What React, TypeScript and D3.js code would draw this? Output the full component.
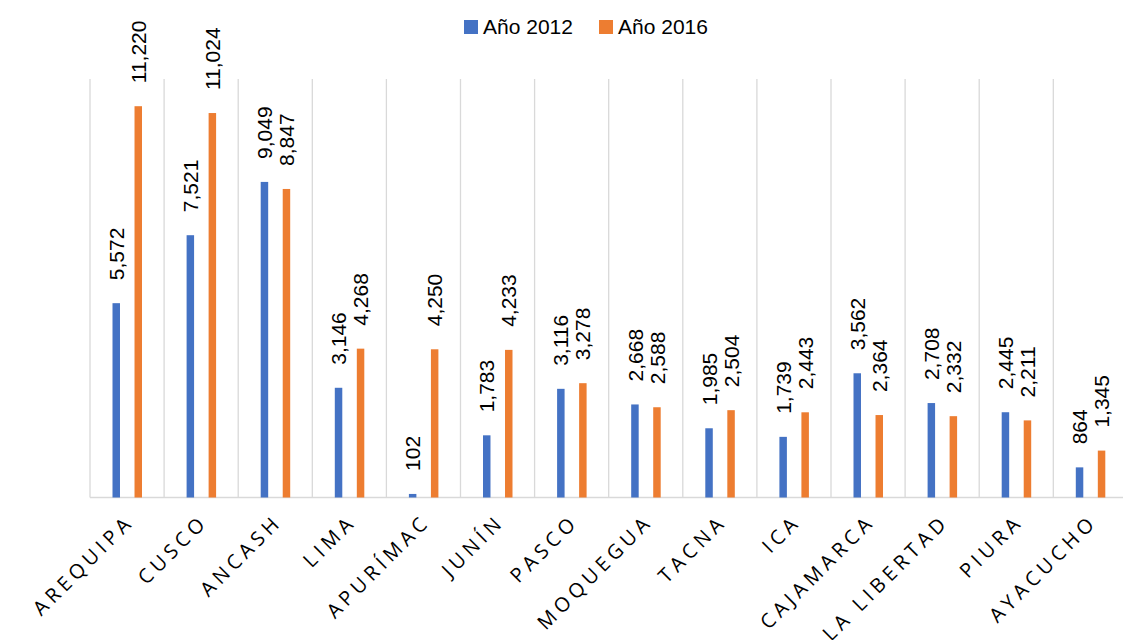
import React from "react";
import * as d3 from "d3";

const regiones = ["AREQUIPA", "CUSCO", "ANCASH", "LIMA", "APURÍMAC", "JUNÍN", "PASCO", "MOQUEGUA", "TACNA", "ICA", "CAJAMARCA", "LA LIBERTAD", "PIURA", "AYACUCHO"];
const anio2012 = [5572, 7521, 9049, 3146, 102, 1783, 3116, 2668, 1985, 1739, 3562, 2708, 2445, 864];
const anio2016 = [11220, 11024, 8847, 4268, 4250, 4233, 3278, 2588, 2504, 2443, 2364, 2332, 2211, 1345];
const series = [
  { name: "Año 2012", values: anio2012, color: "#4472C4" },
  { name: "Año 2016", values: anio2016, color: "#ED7D31" },
];

const W = 1123;
const H = 640;
const left = 90;
const step = 74.1;
const base = 497.5;
const top = 79;

export default function App() {
  const x = d3.scaleBand<string>()
    .domain(regiones)
    .range([left, left + step * regiones.length]);
  const y = d3.scaleLinear().domain([0, 12000]).range([base, top]);
  const inner = d3.scaleBand<number>().domain([0, 1]).range([22.5, 52]).paddingInner(0.66);
  const fmt = d3.format(",");
  const labelFont = "'Liberation Sans', Arial, sans-serif";

  return (
    <svg width={W} height={H} style={{ position: "absolute", left: 0, top: 0, background: "#fff" }}>
      {/* gridlines */}
      {regiones.map((r, i) => (
        <line key={"g" + i} x1={x(r)!} x2={x(r)!} y1={top} y2={base} stroke="#d9d9d9" strokeWidth={1.3} />
      ))}
      <line x1={left + step * regiones.length} x2={left + step * regiones.length} y1={top} y2={base} stroke="#d9d9d9" strokeWidth={1.3} />
      <line x1={left} x2={W} y1={base} y2={base} stroke="#d9d9d9" strokeWidth={1.5} />

      {series.map((s, si) => (
        <g key={s.name}>
          {s.values.map((v, i) => {
            const bx = x(regiones[i])! + inner(si)!;
            const bw = inner.bandwidth();
            const cx = bx + bw / 2;
            const ly = y(v) - 23;
            return (
              <g key={i}>
                <rect x={bx} y={y(v)} width={bw} height={base - y(v)} fill={s.color} />
                <text
                  transform={`translate(${cx},${ly}) rotate(-90)`}
                  dy="0.36em"
                  fontFamily={labelFont}
                  fontSize={21}
                  fill="#000"
                >
                  {fmt(v)}
                </text>
              </g>
            );
          })}
        </g>
      ))}

      {/* category labels */}
      {regiones.map((r) => (
        <text
          key={"c" + r}
          transform={`translate(${x(r)! + x.bandwidth() / 2 + 8},${523}) rotate(-45)`}
          textAnchor="end"
          fontFamily="'Open Sans', sans-serif"
          fontSize={20}
          letterSpacing={4.5}
          fill="#000"
        >
          {r}
        </text>
      ))}

      {/* legend */}
      {series.map((s, i) => (
        <g key={"l" + i} transform={`translate(${464 + i * 135},20)`}>
          <rect width={14} height={14} fill={s.color} />
          <text x={19} y={14} fontFamily={labelFont} fontSize={21} fill="#000">{s.name}</text>
        </g>
      ))}
    </svg>
  );
}
